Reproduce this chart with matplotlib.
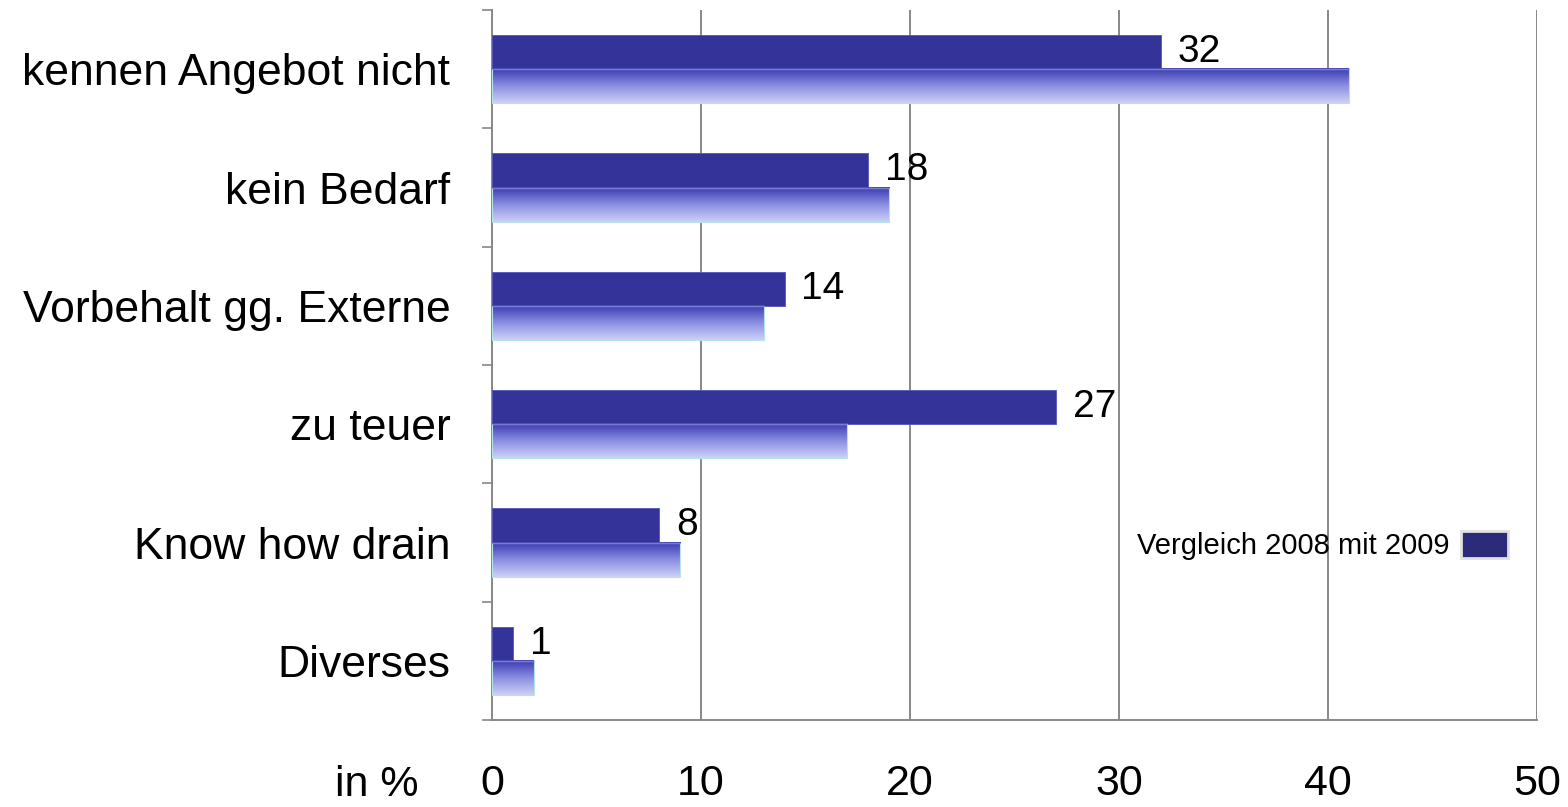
import matplotlib
matplotlib.use("Agg")
import matplotlib.pyplot as plt
import numpy as np
from matplotlib.colors import LinearSegmentedColormap
from matplotlib.patches import Patch

plt.rcParams['font.family'] = ['Liberation Sans', 'DejaVu Sans']

categories = ['kennen Angebot nicht', 'kein Bedarf', 'Vorbehalt gg. Externe',
              'zu teuer', 'Know how drain', 'Diverses']
values_2009 = [32, 18, 14, 27, 8, 1]
values_2008 = [41, 19, 13, 17, 9, 2]
x_ticks = [0, 10, 20, 30, 40, 50]

dark = '#333399'
grid_col = '#888888'
grad = LinearSegmentedColormap.from_list('g', ['#3a3ab2', '#8a8ee0', '#cdd0f7'])

fig = plt.figure(figsize=(15.68, 8.07), dpi=100)
ax = fig.add_axes([0.3138, 0.1078, 0.6664, 0.8798])

h = 0.29
y = np.arange(len(categories))
ax.barh(y - h / 2, values_2009, height=h, color=dark, edgecolor='#5555bb',
        linewidth=0.6, zorder=3)

gradient = np.linspace(0, 1, 64).reshape(-1, 1)
for i, v in enumerate(values_2008):
    ax.imshow(gradient, cmap=grad, aspect='auto', origin='upper',
              extent=(0, v, i + h, i), zorder=3, interpolation='bilinear')
ax.barh(y + h / 2, values_2008, height=h, facecolor='none', edgecolor='#b5e3e6',
        linewidth=0.8, zorder=4)
ax.hlines(y, 0, values_2008, color='#7a7ad0', linewidth=1, zorder=4)

for i, v in enumerate(values_2009):
    ax.annotate(str(v), (v, i - h / 2), xytext=(12, 0), textcoords='offset points',
                ha='left', va='center', fontsize=28, zorder=5)

ax.set_xlim(0, 50)
ax.set_ylim(len(categories) - 0.5, -0.5)
ax.set_xticks(x_ticks)
ax.set_xticklabels([str(t) for t in x_ticks], fontsize=31)
ax.tick_params(axis='x', length=0, pad=32)
ax.set_yticks(y)
ax.set_yticklabels(categories, fontsize=32)
ax.set_yticks(np.arange(-0.5, len(categories), 1), minor=True)
ax.tick_params(axis='y', which='major', length=0, pad=30)
ax.tick_params(axis='y', which='minor', length=7, width=1.2, color=grid_col)

ax.grid(axis='x', color=grid_col, linewidth=1.4, zorder=0)
ax.set_axisbelow(True)
for s in ['top', 'right']:
    ax.spines[s].set_visible(False)
for s in ['left', 'bottom']:
    ax.spines[s].set_color(grid_col)
    ax.spines[s].set_linewidth(1.4)

fig.text(0.24, 0.027, 'in %', fontsize=31, ha='center', va='center')

handle = Patch(facecolor='#2b2b7a', edgecolor='#e0e0e0', linewidth=2)
ax.legend([handle], ['Vergleich 2008 mit 2009'], loc='center right',
          bbox_to_anchor=(0.972, 0.246), frameon=False, markerfirst=False,
          fontsize=21, handlelength=1.6, handleheight=1.05, handletextpad=0.4,
          borderpad=0, borderaxespad=0)

fig.savefig('out.png', dpi=100)
